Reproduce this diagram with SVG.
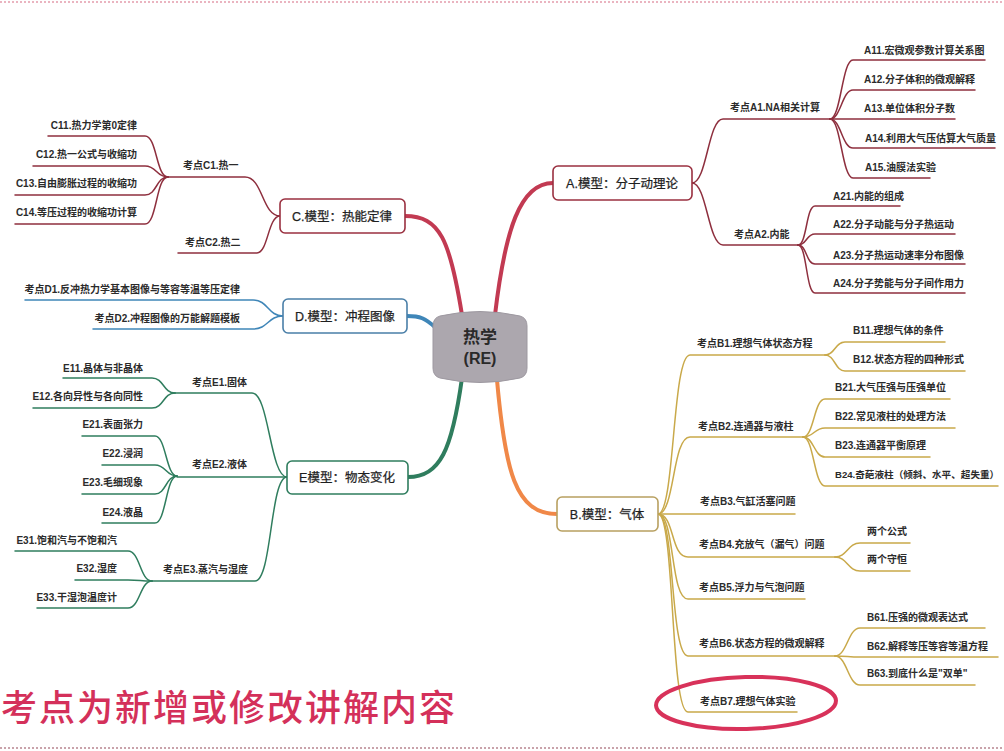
<svg xmlns="http://www.w3.org/2000/svg" width="1004" height="751" viewBox="0 0 1004 751">
<style>
.t{font-family:"Liberation Sans","Noto Sans CJK SC",sans-serif;font-size:10px;font-weight:bold;fill:#2b2b2b}
.r{text-anchor:end}
.m{font-family:"Liberation Sans","Noto Sans CJK SC",sans-serif;font-size:12.5px;fill:#1f1f1f;text-anchor:middle;stroke:#1f1f1f;stroke-width:0.25}
.box{fill:#ffffff;stroke-width:1.6}
.l{fill:none;stroke-width:1.5;stroke-linecap:round}
.main{fill:none;stroke-width:4;stroke-linecap:round}
.red{stroke:#8e2f3e}
.blu{stroke:#3f86b8}
.grn{stroke:#2f7d5e}
.yel{stroke:#c9a94a}
</style>
<rect width="1004" height="751" fill="#ffffff"/>
<line x1="0" y1="2" x2="1004" y2="2" stroke="#eab4c0" stroke-width="2" stroke-dasharray="2 2"/>
<line x1="0" y1="748" x2="1004" y2="748" stroke="#c9a3ab" stroke-width="2" stroke-dasharray="2 2"/>

<g id="connectors">
  <path class="main" stroke="#c23a52" d="M495 315 C505 230 520 183 553 183"/>
  <path class="main" stroke="#c23a52" d="M462 315 C450 240 440 216 405 216"/>
  <path class="main" stroke="#3f86b8" d="M436 328 C425 318 420 316 407 316"/>
  <path class="main" stroke="#2f7d5e" d="M462 378 C452 450 440 477 408 477"/>
  <path class="main" stroke="#f08848" d="M497 380 C505 470 515 514 557 514"/>
  <path class="l red" d="M692 183 C707 183 708 119 723 119 H830"/>
  <path class="l red" d="M692 183 C707 183 708 245 723 245 H798"/>
  <path class="l red" d="M830 119 C841 119 842 60 853 60 H985"/>
  <path class="l red" d="M830 119 C841 119 842 90 853 90 H975"/>
  <path class="l red" d="M830 119 H955"/>
  <path class="l red" d="M830 119 C841 119 842 148 853 148 H995"/>
  <path class="l red" d="M830 119 C841 119 842 178 853 178 H930"/>
  <path class="l red" d="M798 245 C807 245 806 206 815 206 H900"/>
  <path class="l red" d="M798 245 C807 245 806 234 815 234 H955"/>
  <path class="l red" d="M798 245 C807 245 806 264 815 264 H965"/>
  <path class="l red" d="M798 245 C807 245 806 293 815 293 H965"/>
  <path class="l red" d="M280 216 C262 216 263 177 245 177 H168"/>
  <path class="l red" d="M280 216 C268 216 268 253 257 253 H178"/>
  <path class="l red" d="M168 177 C156 177 157 136 145 136 H48"/>
  <path class="l red" d="M168 177 C156 177 157 166 145 166 H33"/>
  <path class="l red" d="M168 177 C156 177 157 195 145 195 H15"/>
  <path class="l red" d="M168 177 C156 177 157 224 145 224 H15"/>
  <path class="l blu" d="M283 316 C268 316 268 300 253 300 H25"/>
  <path class="l blu" d="M283 316 C268 316 268 329 253 329 H93"/>
  <path class="l grn" d="M287 477 C270 477 269 393 252 393 H175"/>
  <path class="l grn" d="M287 477 H177"/>
  <path class="l grn" d="M287 477 C270 477 272 581 255 581 H152"/>
  <path class="l grn" d="M175 393 C163 393 164 378 152 378 H63"/>
  <path class="l grn" d="M175 393 C163 393 164 408 152 408 H33"/>
  <path class="l grn" d="M177 476 C166 476 166 436 155 436 H82"/>
  <path class="l grn" d="M177 476 C166 476 166 465 155 465 H102"/>
  <path class="l grn" d="M177 476 C166 476 166 494 155 494 H82"/>
  <path class="l grn" d="M177 476 C166 476 166 523 155 523 H102"/>
  <path class="l grn" d="M152 581 C140 581 140 551 128 551 H15"/>
  <path class="l grn" d="M152 581 C140 581 140 580 128 580 H75"/>
  <path class="l grn" d="M152 581 C140 581 140 608 128 608 H37"/>
  <path class="l yel" d="M658 514 C675 514 672 355 690 355 H825"/>
  <path class="l yel" d="M658 514 C675 514 672 437 690 437 H803"/>
  <path class="l yel" d="M658 514 H795"/>
  <path class="l yel" d="M658 514 C675 514 670 557 688 557 H835"/>
  <path class="l yel" d="M658 514 C675 514 670 599 688 599 H805"/>
  <path class="l yel" d="M658 514 C675 514 670 656 688 656 H835"/>
  <path class="l yel" d="M658 514 C675 514 670 712 688 712 H797"/>
  <path class="l yel" d="M825 355 C835 355 835 342 845 342 H945"/>
  <path class="l yel" d="M825 355 C835 355 835 371 845 371 H965"/>
  <path class="l yel" d="M803 437 C814 437 814 399 825 399 H950"/>
  <path class="l yel" d="M803 437 C814 437 814 428 825 428 H955"/>
  <path class="l yel" d="M803 437 C814 437 814 457 825 457 H930"/>
  <path class="l yel" d="M803 437 C814 437 814 486 825 486 H998"/>
  <path class="l yel" d="M835 557 C847 557 848 543 860 543 H910"/>
  <path class="l yel" d="M835 557 C847 557 848 571 860 571 H910"/>
  <path class="l yel" d="M835 656 C847 656 848 628 860 628 H985"/>
  <path class="l yel" d="M835 656 C847 656 848 657 860 657 H998"/>
  <path class="l yel" d="M835 656 C847 656 848 685 860 685 H975"/>
</g>

<g id="center">
  <path d="M440 316 Q480 307 520 316 Q527 318 527 326 L527 368 Q527 376 520 378 Q480 387 440 378 Q433 376 433 368 L433 326 Q433 318 440 316 Z" fill="#aca7ae" stroke="#9d98a0" stroke-width="1"/>
  <text x="480" y="343" text-anchor="middle" style="font-family:'Liberation Sans','Noto Sans CJK SC',sans-serif;font-size:17px;font-weight:bold;fill:#2a2a2a">热学</text>
  <text x="480" y="364" text-anchor="middle" style="font-family:'Liberation Sans','Noto Sans CJK SC',sans-serif;font-size:16px;font-weight:bold;fill:#2a2a2a">(RE)</text>
</g>

<g id="nodeA">
  <rect class="box" x="553" y="166" width="139" height="34" rx="5" stroke="#9a3040"/>
  <text class="m" x="622" y="188">A.模型：分子动理论</text>
</g>
<g id="A1"><text class="t" x="730" y="111">考点A1.NA相关计算</text></g>
<g id="A11"><text class="t" x="864" y="54">A11.宏微观参数计算关系图</text></g>
<g id="A12"><text class="t" x="864" y="83">A12.分子体积的微观解释</text></g>
<g id="A13"><text class="t" x="864" y="112">A13.单位体积分子数</text></g>
<g id="A14"><text class="t" x="865" y="142">A14.利用大气压估算大气质量</text></g>
<g id="A15"><text class="t" x="865" y="171">A15.油膜法实验</text></g>
<g id="A2"><text class="t" x="734" y="238">考点A2.内能</text></g>
<g id="A21"><text class="t" x="833" y="200">A21.内能的组成</text></g>
<g id="A22"><text class="t" x="833" y="228">A22.分子动能与分子热运动</text></g>
<g id="A23"><text class="t" x="833" y="259">A23.分子热运动速率分布图像</text></g>
<g id="A24"><text class="t" x="833" y="287">A24.分子势能与分子间作用力</text></g>

<g id="nodeC">
  <rect class="box" x="280" y="199" width="125" height="34" rx="5" stroke="#9a3040"/>
  <text class="m" x="342" y="221">C.模型：热能定律</text>
</g>
<g id="C1"><text class="t" x="183" y="169">考点C1.热一</text></g>
<g id="C2"><text class="t" x="185" y="246">考点C2.热二</text></g>
<g id="C11"><text class="t r" x="137" y="129">C11.热力学第0定律</text></g>
<g id="C12"><text class="t r" x="137" y="158">C12.热一公式与收缩功</text></g>
<g id="C13"><text class="t r" x="137" y="187">C13.自由膨胀过程的收缩功</text></g>
<g id="C14"><text class="t r" x="137" y="216">C14.等压过程的收缩功计算</text></g>

<g id="nodeD">
  <rect class="box" x="283" y="299" width="124" height="34" rx="5" stroke="#4a7fa8"/>
  <text class="m" x="345" y="321">D.模型：冲程图像</text>
</g>
<g id="D1"><text class="t r" x="240" y="293">考点D1.反冲热力学基本图像与等容等温等压定律</text></g>
<g id="D2"><text class="t r" x="240" y="322">考点D2.冲程图像的万能解题模板</text></g>

<g id="nodeE">
  <rect class="box" x="287" y="461" width="121" height="33" rx="5" stroke="#2f7d5e"/>
  <text class="m" x="347" y="482">E模型：物态变化</text>
</g>
<g id="E1"><text class="t" x="192" y="386">考点E1.固体</text></g>
<g id="E2"><text class="t" x="192" y="468">考点E2.液体</text></g>
<g id="E3"><text class="t" x="163" y="573">考点E3.蒸汽与湿度</text></g>
<g id="E11"><text class="t r" x="143" y="372">E11.晶体与非晶体</text></g>
<g id="E12"><text class="t r" x="143" y="400">E12.各向异性与各向同性</text></g>
<g id="E21"><text class="t r" x="143" y="428">E21.表面张力</text></g>
<g id="E22"><text class="t r" x="143" y="457">E22.浸润</text></g>
<g id="E23"><text class="t r" x="143" y="486">E23.毛细现象</text></g>
<g id="E24"><text class="t r" x="143" y="516">E24.液晶</text></g>
<g id="E31"><text class="t r" x="117" y="544">E31.饱和汽与不饱和汽</text></g>
<g id="E32"><text class="t r" x="117" y="572">E32.湿度</text></g>
<g id="E33"><text class="t r" x="117" y="601">E33.干湿泡温度计</text></g>

<g id="nodeB">
  <rect class="box" x="557" y="497" width="101" height="34" rx="5" stroke="#b8a060"/>
  <text class="m" x="607" y="519">B.模型：气体</text>
</g>
<g id="B1"><text class="t" x="697" y="347">考点B1.理想气体状态方程</text></g>
<g id="B11"><text class="t" x="853" y="334">B11.理想气体的条件</text></g>
<g id="B12"><text class="t" x="853" y="363">B12.状态方程的四种形式</text></g>
<g id="B2"><text class="t" x="698" y="430">考点B2.连通器与液柱</text></g>
<g id="B21"><text class="t" x="835" y="391">B21.大气压强与压强单位</text></g>
<g id="B22"><text class="t" x="835" y="420">B22.常见液柱的处理方法</text></g>
<g id="B23"><text class="t" x="835" y="449">B23.连通器平衡原理</text></g>
<g id="B24"><text class="t" x="835" y="478" style="font-size:9.6px">B24.奇葩液柱（倾斜、水平、超失重）</text></g>
<g id="B3"><text class="t" x="700" y="505">考点B3.气缸活塞问题</text></g>
<g id="B4"><text class="t" x="699" y="548">考点B4.充放气（漏气）问题</text></g>
<g id="B41"><text class="t" x="867" y="535">两个公式</text></g>
<g id="B42"><text class="t" x="867" y="563">两个守恒</text></g>
<g id="B5"><text class="t" x="699" y="591">考点B5.浮力与气泡问题</text></g>
<g id="B6"><text class="t" x="699" y="647">考点B6.状态方程的微观解释</text></g>
<g id="B61"><text class="t" x="867" y="621">B61.压强的微观表达式</text></g>
<g id="B62"><text class="t" x="867" y="650">B62.解释等压等容等温方程</text></g>
<g id="B63"><text class="t" x="867" y="677">B63.到底什么是"双单"</text></g>
<g id="B7"><text class="t" x="700" y="705">考点B7.理想气体实验</text></g>

<ellipse cx="746" cy="703" rx="90" ry="26" fill="none" stroke="#d8325a" stroke-width="4" transform="rotate(-1.5 746 703)"/>

<text x="1" y="721" style="font-family:'Noto Sans CJK SC',sans-serif;font-size:36px;font-weight:500;fill:#d4305a;letter-spacing:2px">考点为新增或修改讲解内容</text>
</svg>
